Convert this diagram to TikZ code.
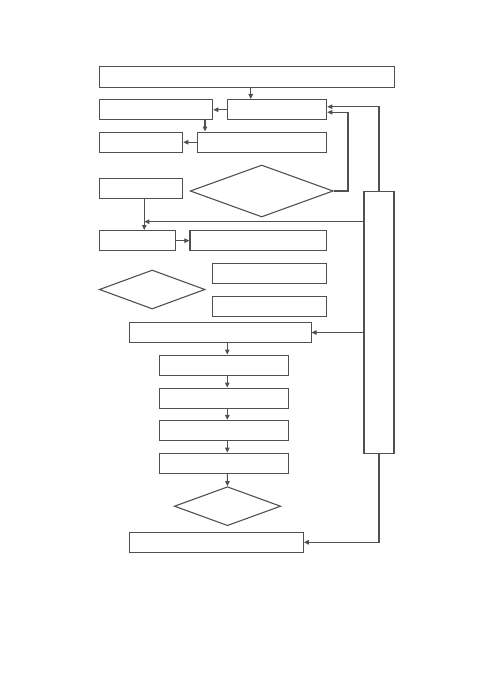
\documentclass[tikz,border=0pt]{standalone}
\usetikzlibrary{arrows.meta,shapes.geometric}
\definecolor{ln}{RGB}{80,80,80}
\begin{document}
\begin{tikzpicture}[x=1pt,y=-1pt,
  box/.style={draw=ln,line width=1.1pt,rectangle,inner sep=0pt,minimum height=20.3pt},
  dia/.style={draw=ln,line width=1.1pt,diamond,inner sep=0pt},
  arr/.style={draw=ln,line width=1.1pt,-{Triangle[length=5pt,width=4.5pt]}},
  ln/.style={draw=ln,line width=1.1pt}]
\useasboundingbox (0,0) rectangle (500,698);
\node[box,minimum width=295pt] (top) at (246.6,77) {};
\node[box,minimum width=113.4pt] (A) at (156,109.7) {};
\node[box,minimum width=99.4pt] (B) at (277,109.7) {};
\node[box,minimum width=83.4pt] (C) at (141,142.2) {};
\node[box,minimum width=129.4pt] (D) at (262,142.2) {};
\node[box,minimum width=83pt] (E) at (140.8,188.3) {};
\node[dia,minimum width=143pt,minimum height=52pt] (d1) at (261.7,191) {};
\node[box,minimum width=30pt,minimum height=261.6pt] (T) at (379,322.5) {};
\node[box,minimum width=75.7pt] (F) at (137.2,240.7) {};
\node[box,minimum width=136.7pt] (G) at (258.3,240.7) {};
\node[box,minimum width=114pt] (H) at (269.7,273.3) {};
\node[box,minimum width=114pt] (I) at (269.7,306.3) {};
\node[dia,minimum width=105.7pt,minimum height=39pt] (d2) at (152.2,289.5) {};
\node[box,minimum width=181.7pt] (J) at (220.2,332.5) {};
\node[box,minimum width=129pt] (K1) at (223.8,365.2) {};
\node[box,minimum width=129pt] (K2) at (223.8,398.2) {};
\node[box,minimum width=129pt] (K3) at (223.8,430.5) {};
\node[box,minimum width=129pt] (K4) at (223.8,463.3) {};
\node[dia,minimum width=106.4pt,minimum height=39pt] (d3) at (227.5,506.2) {};
\node[box,minimum width=174pt] (L) at (216.3,542.3) {};
% helper coordinates
\coordinate (xa) at (250.7,0);
\coordinate (xb) at (205,0);
\coordinate (c1) at (348,191);
\coordinate (m) at (144.3,221.7);
\coordinate (xk) at (227.3,0);
% connectors
\draw[arr] (top.south -| xa) -- (B.north -| xa);
\draw[arr] (B.west) -- (A.east);
\draw[arr] (A.south -| xb) -- (D.north -| xb);
\draw[arr] (D.west) -- (C.east);
\draw[arr] (d1.east) -- (c1) |- ([yshift=-2.6pt]B.east);
\draw[arr] (T.north) |- ([yshift=3pt]B.east);
\draw[arr] (T.west |- m) -- (m);
\draw[arr] (E.south -| m) -- (F.north -| m);
\draw[arr] (F.east) -- (G.west);
\draw[arr] (T.west |- J.east) -- (J.east);
\draw[arr] (J.south -| xk) -- (K1.north -| xk);
\draw[arr] (K1.south -| xk) -- (K2.north -| xk);
\draw[arr] (K2.south -| xk) -- (K3.north -| xk);
\draw[arr] (K3.south -| xk) -- (K4.north -| xk);
\draw[arr] (K4.south -| xk) -- (d3.north);
\draw[arr] (T.south) |- (L.east);
\end{tikzpicture}
\end{document}
